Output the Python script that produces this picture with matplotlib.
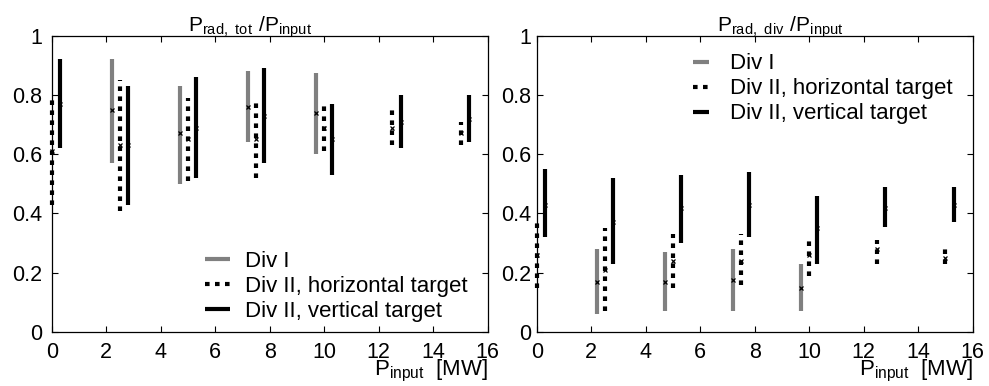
import numpy as np
import matplotlib.pyplot as plt

plt.rcParams['font.family'] = ['Liberation Sans', 'DejaVu Sans']
plt.rcParams['mathtext.default'] = 'regular'

# ---- P_rad,tot / P_input ----
tot_x1 = [2.2, 4.7, 7.2, 9.7]
tot_lo1 = [0.57, 0.50, 0.64, 0.60]
tot_hi1 = [0.92, 0.83, 0.88, 0.875]
tot_mid1 = [0.75, 0.67, 0.76, 0.74]

tot_xh = [0.0, 2.5, 5.0, 7.5, 10.0, 12.5, 15.0]
tot_loh = [0.43, 0.41, 0.51, 0.52, 0.61, 0.63, 0.63]
tot_hih = [0.80, 0.85, 0.79, 0.775, 0.77, 0.75, 0.71]
tot_midh = [0.61, 0.63, 0.65, 0.65, 0.69, 0.69, 0.67]

tot_xv = [0.3, 2.8, 5.3, 7.8, 10.3, 12.8, 15.3]
tot_lov = [0.62, 0.43, 0.52, 0.57, 0.53, 0.62, 0.64]
tot_hiv = [0.92, 0.83, 0.86, 0.89, 0.77, 0.80, 0.80]
tot_midv = [0.77, 0.63, 0.69, 0.73, 0.65, 0.71, 0.72]

# ---- P_rad,div / P_input ----
div_x1 = [2.2, 4.7, 7.2, 9.7]
div_lo1 = [0.06, 0.07, 0.07, 0.07]
div_hi1 = [0.28, 0.27, 0.28, 0.23]
div_mid1 = [0.17, 0.17, 0.175, 0.15]

div_xh = [0.0, 2.5, 5.0, 7.5, 10.0, 12.5, 15.0]
div_loh = [0.15, 0.07, 0.15, 0.16, 0.19, 0.23, 0.23]
div_hih = [0.37, 0.35, 0.33, 0.33, 0.32, 0.31, 0.28]
div_midh = [0.26, 0.21, 0.24, 0.24, 0.26, 0.28, 0.25]

div_xv = [0.3, 2.8, 5.3, 7.8, 10.3, 12.8, 15.3]
div_lov = [0.32, 0.23, 0.30, 0.32, 0.23, 0.355, 0.37]
div_hiv = [0.55, 0.52, 0.53, 0.54, 0.46, 0.49, 0.49]
div_midv = [0.43, 0.37, 0.42, 0.43, 0.35, 0.42, 0.43]

labels = ['Div I', 'Div II, horizontal target', 'Div II, vertical target']
styles = [dict(color='#808080', ls='-'),
          dict(color='black', ls=(0, (1.1, 1.3))),
          dict(color='black', ls='-')]
yticks = [0, 0.2, 0.4, 0.6, 0.8, 1]
yticklabels = ['0', '0.2', '0.4', '0.6', '0.8', '1']

fig = plt.figure(figsize=(9.89, 3.86), dpi=100)
ax1 = fig.add_axes([0.0523, 0.1399, 0.4409, 0.7676])
ax2 = fig.add_axes([0.5427, 0.1399, 0.4408, 0.7676])


def draw(ax, series, ypad):
    handles = []
    for (xs, lo, hi, mid), st, lab in zip(series, styles, labels):
        h = None
        for x, a, b, m in zip(xs, lo, hi, mid):
            h, = ax.plot([x, x], [a, b], lw=3, color=st['color'], linestyle=st['ls'],
                         solid_capstyle='butt', dash_capstyle='butt', zorder=2,
                         clip_on=False)
            ax.plot([x], [m], marker='x', ms=3.5, mew=0.9, color='black', zorder=3,
                    clip_on=False)
        handles.append(h)
    ax.set_xlim(0, 16)
    ax.set_ylim(0, 1)
    ax.set_xticks(np.arange(0, 17, 2))
    ax.set_yticks(yticks)
    ax.set_yticklabels(yticklabels)
    ax.tick_params(direction='in', top=True, right=True, length=4.5, width=0.8,
                   labelsize=15.5)
    ax.tick_params(axis='x', pad=7)
    ax.tick_params(axis='y', pad=ypad)
    for s in ax.spines.values():
        s.set_linewidth(0.9)
    ax.text(1.0, -0.146, r'$P_{input}$  [MW]', transform=ax.transAxes,
            ha='right', va='baseline', fontsize=16)
    return handles


h1 = draw(ax1, [(tot_x1, tot_lo1, tot_hi1, tot_mid1),
                (tot_xh, tot_loh, tot_hih, tot_midh),
                (tot_xv, tot_lov, tot_hiv, tot_midv)], 7)
h2 = draw(ax2, [(div_x1, div_lo1, div_hi1, div_mid1),
                (div_xh, div_loh, div_hih, div_midh),
                (div_xv, div_lov, div_hiv, div_midv)], 4)

ax1.text(0.455, 0.985, r'$P_{rad,\ tot}\ /P_{input}$', transform=ax1.transAxes,
         ha='center', va='bottom', fontsize=15)
ax2.text(0.558, 0.985, r'$P_{rad,\ div}\ /P_{input}$', transform=ax2.transAxes,
         ha='center', va='bottom', fontsize=15)

leg_kw = dict(frameon=False, fontsize=16, labelspacing=0.18, borderpad=0,
              borderaxespad=0)
ax1.legend(h1, labels, loc='upper left', bbox_to_anchor=(0.3515, 0.275),
           handlelength=1.125, handletextpad=0.68, **leg_kw)
ax2.legend(h2, labels, loc='upper left', bbox_to_anchor=(0.358, 0.94),
           handlelength=0.72, handletextpad=0.95, **leg_kw)

fig.savefig('out.png', dpi=100)
